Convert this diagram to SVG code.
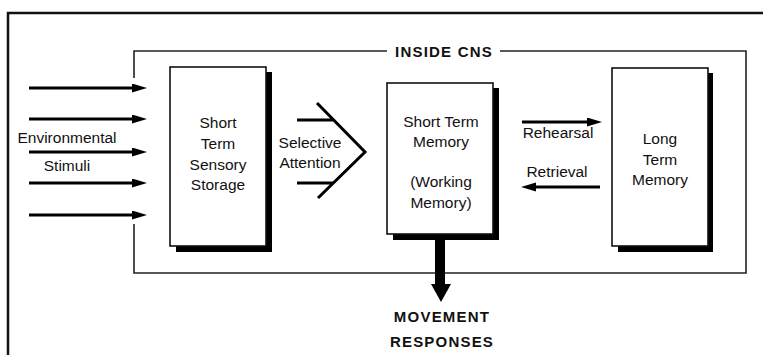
<svg xmlns="http://www.w3.org/2000/svg" width="763" height="355" viewBox="0 0 763 355">
<defs>
<marker id="ah" markerUnits="userSpaceOnUse" markerWidth="16" markerHeight="10" refX="8" refY="4.5" orient="auto">
<path d="M0,0 L15,4.5 L0,9 z" fill="#000"/>
</marker>
</defs>
<style>
text{font-family:"Liberation Sans",Arial,Helvetica,sans-serif;font-size:15.5px;fill:#111;text-anchor:middle}
.b{font-weight:bold;font-size:15px;letter-spacing:1.2px}
.box{fill:#fff;stroke:#111;stroke-width:1.6}
.sh{fill:none;stroke:#000;stroke-width:6}
.fr{fill:none;stroke:#222;stroke-width:1.6}
.ar{stroke:#000;stroke-width:3;fill:none}
</style>
<rect width="763" height="355" fill="#fff"/>
<g id="outer-frame"><path d="M8,370 L8,13 L780,13" fill="none" stroke="#111" stroke-width="2.5"/></g>
<g id="cns">
<path class="fr" d="M134,78 L134,51 L387,51 M500,51 L746,51 L746,273 L134,273 L134,224"/>
<text class="b" x="444" y="57">INSIDE CNS</text>
</g>
<g id="connectors">
<line class="ar" x1="29" y1="88" x2="140" y2="88" marker-end="url(#ah)"/>
<line class="ar" x1="29" y1="119" x2="140" y2="119" marker-end="url(#ah)"/>
<line class="ar" x1="29" y1="152" x2="140" y2="152" marker-end="url(#ah)"/>
<line class="ar" x1="29" y1="183" x2="140" y2="183" marker-end="url(#ah)"/>
<line class="ar" x1="29" y1="215" x2="140" y2="215" marker-end="url(#ah)"/>
<line class="ar" x1="522" y1="122" x2="595" y2="122" marker-end="url(#ah)"/>
<line class="ar" x1="600" y1="187" x2="528" y2="187" marker-end="url(#ah)"/>
<path d="M297,120 L333,120 M297,183 L333,183 M317,103 L365,152 L318,198" fill="none" stroke="#000" stroke-width="3"/>
<rect x="435" y="236" width="10" height="50" fill="#000"/>
<polygon points="431,284 451,284 441,302" fill="#000"/>
</g>
<g id="env-label">
<text x="67" y="143">Environmental</text>
<text x="67" y="171">Stimuli</text>
</g>
<g id="sel-label">
<text x="310" y="148">Selective</text>
<text x="310" y="168">Attention</text>
</g>
<g id="sensory">
<path class="sh" d="M176,249 L269,249 L269,72"/>
<rect class="box" x="170" y="67" width="96" height="179"/>
<text x="218" y="128">Short</text>
<text x="218" y="149">Term</text>
<text x="218" y="169.5">Sensory</text>
<text x="218" y="190">Storage</text>
</g>
<g id="stm">
<path class="sh" d="M393,237 L496,237 L496,88"/>
<rect class="box" x="387" y="83" width="106" height="151"/>
<text x="441" y="127">Short Term</text>
<text x="441" y="147">Memory</text>
<text x="441" y="187">(Working</text>
<text x="441" y="208">Memory)</text>
</g>
<g id="ltm">
<path class="sh" d="M618,249 L710,249 L710,73"/>
<rect class="box" x="612" y="68" width="96" height="178"/>
<text x="660" y="144">Long</text>
<text x="660" y="165">Term</text>
<text x="660" y="185">Memory</text>
</g>
<g id="rr-labels">
<text x="558" y="138">Rehearsal</text>
<text x="557" y="177">Retrieval</text>
</g>
<g id="movement">
<text class="b" x="442" y="322">MOVEMENT</text>
<text class="b" x="442" y="347">RESPONSES</text>
</g>
</svg>
